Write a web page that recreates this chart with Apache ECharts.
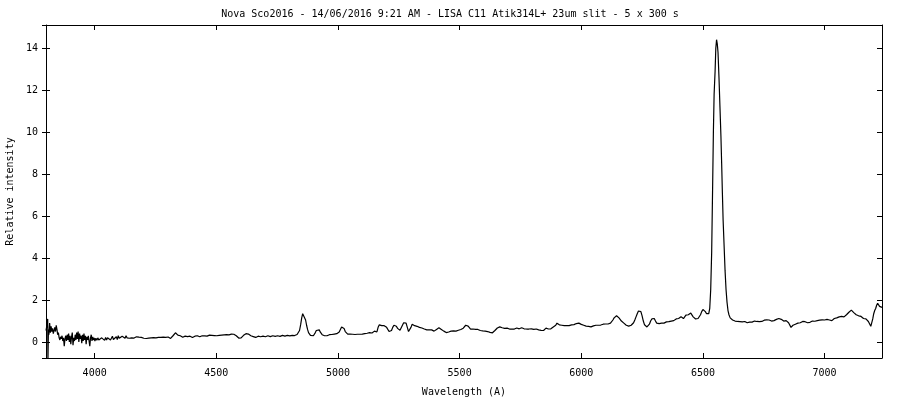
<!DOCTYPE html>
<html>
<head>
<meta charset="utf-8">
<script src="https://cdn.jsdelivr.net/npm/echarts@6/dist/echarts.min.js"></script>
<style>
html,body{margin:0;padding:0;background:#fff;}
#chart{width:900px;height:400px;}
</style>
</head>
<body>
<div id="chart"></div>
<script>
// ---- data: [wavelength (A), relative intensity] ----
const spectrumBlue = [
[3800,0.55],[3803,0.75],[3805,0.95],[3807,1.10],[3808,-0.9],[3810,0.6],[3812,0.35],[3815,0.9],[3818,0.45],
[3821,0.75],[3824,0.5],[3827,0.65],[3830,0.4],[3833,0.55],[3836,0.7],[3839,0.5],[3842,0.8],[3845,0.6],
[3848,0.35],[3851,0.45],[3854,0.2],[3857,0.1],[3860,0.25],[3863,0.15],[3866,0.3],[3869,0.05],[3872,0.2],
[3875,-0.2],[3878,0.15],[3881,0.3],[3884,0.05],[3887,0.35],[3890,0.1],[3893,0.4],[3896,0.0],[3899,0.3],
[3902,-0.1],[3905,0.25],[3908,0.45],[3911,-0.15],[3914,0.2],[3917,0.05],[3920,0.35],[3923,0.1],[3926,0.45],
[3929,0.15],[3932,0.5],[3935,0.0],[3938,0.4],[3941,0.15],[3944,0.3],[3947,-0.05],[3950,0.35],[3953,0.05],
[3956,0.4],[3959,0.1],[3962,0.3],[3965,-0.1],[3968,0.25],[3971,0.1],[3974,0.3],[3977,0.05],[3980,-0.2],
[3983,0.2],[3986,0.35],[3989,0.05],[3992,0.25],[3995,0.1],[3998,0.2],[4001,0.05],[4005,0.18],[4009,0.08],
[4013,0.2],[4017,0.1],[4021,0.15],[4025,0.05],[4029,0.2],[4033,0.12],[4037,0.18],[4041,0.08],[4045,0.22],
[4049,0.1],[4053,0.2],[4057,0.12],[4061,0.25],[4065,0.1],[4069,0.18],[4073,0.28],[4077,0.12],[4081,0.2],
[4085,0.15],[4089,0.25],[4093,0.12],[4097,0.3],[4101,0.18],[4105,0.22],[4109,0.15],[4113,0.28],[4117,0.2],
[4121,0.25],[4125,0.18],[4129,0.3],[4133,0.2],[4137,0.24],[4142,0.18],[4147,0.26],[4152,0.2],[4157,0.24],
[4162,0.19],[4167,0.22],[4172,0.25],[4177,0.2],[4182,0.23],[4187,0.19],[4192,0.22],[4197,0.2],[4202,0.18],
[4207,0.2],[4212,0.17],[4217,0.21],[4222,0.19],[4227,0.22],[4232,0.2],[4237,0.24],[4242,0.21],[4247,0.23],
[4252,0.2],[4257,0.25],[4262,0.22],[4267,0.19],[4272,0.22],[4277,0.2],[4282,0.23],[4287,0.26],[4292,0.22],
[4297,0.2],[4302,0.24],[4307,0.22],[4312,0.17],[4317,0.25],[4322,0.3],[4327,0.38],[4332,0.44],[4337,0.4],
[4342,0.33],[4347,0.36],[4352,0.3],[4357,0.27],[4362,0.23],[4367,0.25],[4372,0.28],[4377,0.24],[4382,0.26],
[4387,0.24],[4392,0.28],[4397,0.25],[4402,0.22],[4407,0.26],[4412,0.28],[4417,0.25],[4422,0.3],[4427,0.27],
[4432,0.25],[4437,0.29],[4442,0.3],[4447,0.26],[4452,0.29],[4457,0.31],[4462,0.28],[4467,0.3],[4472,0.33],
[4477,0.3],[4482,0.32],[4487,0.35],[4492,0.31],[4497,0.33],[4502,0.3],[4507,0.34],[4512,0.32],[4517,0.35],
[4522,0.33],[4527,0.36],[4532,0.34],[4537,0.32],[4542,0.35],[4547,0.37],[4552,0.34],[4557,0.36],[4562,0.38],
[4567,0.35],[4572,0.37],[4577,0.34],[4582,0.3],[4587,0.24],[4592,0.19],[4597,0.16],[4602,0.2],[4607,0.26],
[4612,0.32],[4617,0.36],[4622,0.4],[4627,0.42],[4632,0.38],[4637,0.33],[4642,0.3],[4647,0.28],[4652,0.26],
[4657,0.24],[4662,0.22],[4667,0.25],[4672,0.28],[4677,0.27],[4682,0.25],[4687,0.26],[4692,0.28],[4697,0.27],
[4702,0.25],[4707,0.28],[4712,0.3],[4717,0.27],[4722,0.26],[4727,0.28],[4732,0.3],[4737,0.28],[4742,0.27],
[4747,0.29],[4752,0.3],[4757,0.28],[4762,0.27],[4767,0.3],[4772,0.32],[4777,0.3],[4782,0.28],[4787,0.3],
[4792,0.32],[4797,0.31],[4802,0.29],[4807,0.3],[4812,0.32],[4817,0.3],[4822,0.31],[4827,0.33]
];
const spectrumGreen = [
[4832,0.36],[4837,0.4],[4842,0.55],[4847,0.85],[4851,1.15],[4855,1.35],[4859,1.4],[4863,1.3],[4867,1.05],
[4871,0.8],[4875,0.6],[4879,0.45],[4883,0.36],[4887,0.32],[4891,0.3],[4895,0.28],[4899,0.3],[4903,0.35],
[4907,0.45],[4911,0.55],[4915,0.6],[4919,0.62],[4923,0.58],[4927,0.48],[4931,0.4],[4935,0.35],[4940,0.33],
[4945,0.3],[4950,0.32],[4955,0.3],[4960,0.33],[4965,0.35],[4970,0.33],[4975,0.36],[4980,0.35],[4985,0.38],
[4990,0.37],[4995,0.4],[5000,0.42],[5005,0.48],[5010,0.6],[5015,0.72],[5020,0.73],[5025,0.65],[5030,0.5],
[5035,0.42],[5040,0.38],[5045,0.39],[5050,0.38],[5055,0.4],[5060,0.37],[5065,0.38],[5070,0.36],[5075,0.38],
[5080,0.37],[5085,0.36],[5090,0.37],[5095,0.36],[5100,0.38],[5105,0.37],[5110,0.4],[5115,0.38],[5120,0.42],
[5125,0.4],[5130,0.45],[5135,0.4],[5140,0.43],[5145,0.48],[5150,0.52],[5155,0.55],[5160,0.48],[5165,0.7],
[5170,0.82],[5175,0.8],[5180,0.78],[5185,0.75],[5190,0.78],[5195,0.72],[5200,0.7],[5205,0.62],[5210,0.5],
[5215,0.45],[5220,0.55],[5225,0.7],[5230,0.8],[5235,0.82],[5240,0.75],[5245,0.65],[5250,0.58],[5255,0.56],
[5260,0.65],[5265,0.8],[5270,0.92],[5275,0.96],[5280,0.9],[5285,0.7],[5290,0.5],[5295,0.52],[5300,0.7],
[5305,0.85],[5310,0.86],[5315,0.78],[5320,0.72],[5325,0.75],[5330,0.72],[5335,0.7],[5340,0.68],[5345,0.67],
[5350,0.65],[5355,0.62],[5360,0.6],[5365,0.58],[5370,0.57],[5375,0.58],[5380,0.6],[5385,0.58],[5390,0.55],
[5395,0.52],[5400,0.56],[5405,0.6],[5410,0.65],[5415,0.68],[5420,0.66],[5425,0.6],[5430,0.56],[5435,0.52],
[5440,0.48],[5445,0.45],[5450,0.47],[5455,0.48],[5460,0.5],[5465,0.52],[5470,0.5],[5475,0.53],[5480,0.55],
[5485,0.52],[5490,0.54],[5495,0.56],[5500,0.57],[5505,0.6],[5510,0.62],[5515,0.66],[5520,0.72],[5525,0.8],
[5530,0.82],[5535,0.76],[5540,0.68],[5545,0.62],[5550,0.6],[5555,0.62],[5560,0.64],[5565,0.6],[5570,0.58],
[5575,0.6],[5580,0.57],[5585,0.55],[5590,0.56],[5595,0.53],[5600,0.55],[5605,0.52],[5610,0.53],[5615,0.5],
[5620,0.48],[5625,0.46],[5630,0.44],[5635,0.44],[5640,0.48],[5645,0.55],[5650,0.62],[5655,0.67],[5660,0.7],
[5665,0.72],[5670,0.7],[5675,0.68],[5680,0.66],[5685,0.65],[5690,0.64],[5695,0.66],[5700,0.65],[5705,0.62],
[5710,0.63],[5715,0.62],[5720,0.6],[5725,0.62],[5730,0.65],[5735,0.67],[5740,0.66],[5745,0.63],[5750,0.65],
[5755,0.68],[5760,0.66],[5765,0.63],[5770,0.64],[5775,0.62],[5780,0.63],[5785,0.62],[5790,0.61],[5795,0.63],
[5800,0.62],[5805,0.6],[5810,0.63],[5815,0.62],[5820,0.6],[5825,0.58],[5830,0.62],[5835,0.56],[5840,0.52],
[5845,0.55],[5850,0.6],[5855,0.66],[5860,0.7],[5865,0.62],[5870,0.58],[5875,0.63],[5880,0.68],[5885,0.72],
[5890,0.75],[5895,0.8],[5900,0.9],[5905,0.88],[5910,0.82],[5915,0.78],[5920,0.8],[5925,0.77],[5930,0.78],
[5935,0.76],[5940,0.78],[5945,0.8],[5950,0.78],[5955,0.8],[5960,0.82],[5965,0.8],[5970,0.83],[5975,0.85],
[5980,0.88],[5985,0.92],[5990,0.9],[5995,0.85],[6000,0.84],[6005,0.82],[6010,0.8],[6015,0.78],[6020,0.76],
[6025,0.74],[6030,0.75],[6035,0.72],[6040,0.72],[6045,0.75],[6050,0.77],[6055,0.78],[6060,0.8],[6065,0.78],
[6070,0.8],[6075,0.82],[6080,0.81],[6085,0.83],[6090,0.85],[6095,0.84],[6100,0.86],[6105,0.88],[6110,0.86],
[6115,0.84],[6120,0.9],[6125,0.95],[6130,1.05],[6135,1.15],[6140,1.2],[6145,1.25],[6150,1.22],[6155,1.15],
[6160,1.08],[6165,1.0],[6170,0.95],[6175,0.9],[6180,0.85],[6185,0.8],[6190,0.78],[6195,0.76],[6200,0.78],
[6205,0.8],[6210,0.85],[6215,0.92],[6220,1.05],[6225,1.2],[6230,1.35],[6235,1.48],[6240,1.54],[6245,1.45],
[6250,1.25],[6255,1.0],[6260,0.82],[6265,0.74],[6270,0.72],[6275,0.75],[6280,0.85],[6285,1.0],[6290,1.1],
[6295,1.15],[6300,1.12],[6305,1.0],[6310,0.9],[6315,0.86],[6320,0.88],[6325,0.87],[6330,0.9],[6335,0.92],
[6340,0.9],[6345,0.93],[6350,0.96],[6355,0.95],[6360,0.97],[6365,0.94],[6370,1.0],[6375,1.05],[6380,1.02],
[6385,1.08],[6390,1.1],[6395,1.06],[6400,1.12],[6405,1.18],[6410,1.2],[6415,1.15],[6420,1.12],[6425,1.2],
[6430,1.28],[6435,1.32],[6440,1.3],[6445,1.35],[6450,1.38],[6455,1.3],[6460,1.2],[6465,1.12],[6470,1.1],
[6475,1.1],[6480,1.12],[6485,1.15],[6490,1.3],[6495,1.45],[6500,1.55],[6505,1.58],[6510,1.45],[6515,1.35],
[6520,1.28]
];
const spectrumHalpha = [
[6524,1.35],[6528,1.6],[6532,2.5],[6536,4.3],[6540,7.5],[6543,10.0],[6546,11.8],[6550,12.9],[6553,14.0],
[6556,14.4],[6559,14.2],[6562,13.8],[6566,12.6],[6570,11.2],[6574,9.8],[6577,8.5],[6580,7.1],[6583,5.8],
[6587,4.6],[6591,3.4],[6595,2.5],[6599,1.9],[6603,1.5],[6607,1.3],[6612,1.15],[6617,1.08],[6622,1.05]
];
const spectrumRed = [
[6627,1.02],[6632,1.0],[6637,0.97],[6642,0.98],[6647,0.95],[6652,0.97],[6657,0.93],[6662,0.96],[6667,0.94],
[6672,0.98],[6677,0.95],[6682,0.92],[6687,0.96],[6692,0.95],[6697,0.98],[6702,0.95],[6707,0.97],[6712,1.0],
[6717,0.96],[6722,0.98],[6727,0.95],[6732,0.97],[6737,1.0],[6742,0.98],[6747,1.02],[6752,1.04],[6757,1.02],
[6762,1.06],[6767,1.03],[6772,1.05],[6777,1.02],[6782,1.0],[6787,1.04],[6792,1.02],[6797,1.05],[6802,1.08],
[6807,1.1],[6812,1.12],[6817,1.05],[6822,1.08],[6827,1.02],[6832,1.0],[6837,1.04],[6842,1.02],[6847,0.98],
[6852,0.92],[6857,0.85],[6862,0.7],[6866,0.66],[6870,0.8],[6875,0.78],[6880,0.85],[6885,0.82],[6890,0.9],
[6895,0.86],[6900,0.92],[6905,0.95],[6910,0.98],[6915,0.94],[6920,0.97],[6925,0.95],[6930,0.92],[6935,0.96],
[6940,0.94],[6945,0.98],[6950,1.0],[6955,0.96],[6960,0.99],[6965,0.97],[6970,1.02],[6975,1.0],[6980,1.04],
[6985,1.02],[6990,1.06],[6995,1.08],[7000,1.05],[7005,1.1],[7010,1.08],[7015,1.12],[7020,1.05],[7025,1.08],
[7030,1.02],[7035,1.06],[7040,1.12],[7045,1.08],[7050,1.15],[7055,1.1],[7060,1.2],[7065,1.15],[7070,1.22],
[7075,1.28],[7080,1.2],[7085,1.25],[7090,1.3],[7095,1.35],[7100,1.42],[7105,1.5],[7110,1.52],[7115,1.45],
[7120,1.4],[7125,1.38],[7130,1.3],[7135,1.32],[7140,1.25],[7145,1.2],[7150,1.22],[7155,1.15],[7160,1.12],
[7165,1.08],[7170,1.1],[7175,1.02],[7180,0.98],[7185,0.9],[7190,0.75],[7194,0.8],[7198,1.1],[7202,1.35],
[7206,1.5],[7210,1.6],[7214,1.75],[7218,1.85],[7222,1.8],[7226,1.7],[7230,1.62],[7236,1.65]
];
const xTickValues = [4000, 4500, 5000, 5500, 6000, 6500, 7000];
const yTickValues = [0, 2, 4, 6, 8, 10, 12, 14];
const titleText = 'Nova Sco2016 - 14/06/2016 9:21 AM - LISA C11 Atik314L+ 23um slit - 5 x 300 s';
const xName = 'Wavelength (A)';
const yName = 'Relative intensity';

const X_MIN = 3800, X_MAX = 7236, Y_MIN = -0.76, Y_MAX = 15.1;
const FONT = 'DejaVu Sans Mono';
const black = '#000';

const spectrum = spectrumBlue.concat(spectrumGreen, spectrumHalpha, spectrumRed);

const gridPos = {left: 46, right: 18, top: 25, bottom: 42, containLabel: false, outerBoundsMode: 'none'};

function xAx(extra) {
  return Object.assign({
    type: 'value', min: X_MIN, max: X_MAX, minInterval: 500, maxInterval: 500,
    splitLine: {show: false},
    axisLine: {show: true, onZero: false, lineStyle: {color: black, width: 1}},
    axisTick: {show: true, inside: true, length: 5, lineStyle: {color: black, width: 1}},
    axisLabel: {show: false}
  }, extra);
}
function yAx(extra) {
  return Object.assign({
    type: 'value', min: Y_MIN, max: Y_MAX, minInterval: 2, maxInterval: 2,
    splitLine: {show: false},
    axisLine: {show: true, onZero: false, lineStyle: {color: black, width: 1}},
    axisTick: {show: true, inside: true, length: 5, lineStyle: {color: black, width: 1}},
    axisLabel: {show: false}
  }, extra);
}

const chart = echarts.init(document.getElementById('chart'), null, {renderer: 'canvas'});
chart.setOption({
  animation: false,
  backgroundColor: '#fff',
  title: {
    text: titleText, left: 'center', top: 4,
    textStyle: {fontFamily: FONT, fontSize: 10, fontWeight: 'normal', color: black}
  },
  grid: [gridPos, Object.assign({}, gridPos)],
  xAxis: [
    xAx({
      gridIndex: 0, position: 'bottom',
      axisLabel: {
        show: true, color: black, fontFamily: FONT, fontSize: 10, margin: 10,
        formatter: v => xTickValues.indexOf(v) >= 0 ? String(v) : ''
      },
      name: xName, nameLocation: 'middle', nameGap: 29,
      nameTextStyle: {fontFamily: FONT, fontSize: 10, color: black}
    }),
    xAx({gridIndex: 0, position: 'top'}),
    xAx({gridIndex: 1, position: 'bottom', axisLine: {show: false, onZero: false}, axisTick: {show: false}})
  ],
  yAxis: [
    yAx({
      gridIndex: 0, position: 'left',
      axisTick: {show: true, inside: false, length: 4, lineStyle: {color: black, width: 1}},
      axisLabel: {
        show: true, color: black, fontFamily: FONT, fontSize: 10, margin: 8,
        formatter: v => yTickValues.indexOf(v) >= 0 ? String(v) : ''
      },
      name: yName, nameLocation: 'middle', nameGap: 27,
      nameTextStyle: {fontFamily: FONT, fontSize: 10, color: black}
    }),
    yAx({gridIndex: 0, position: 'right'}),
    yAx({gridIndex: 1, position: 'left', axisLine: {show: false, onZero: false},
         axisTick: {show: true, inside: true, length: 4, lineStyle: {color: black, width: 1}}})
  ],
  series: [{
    type: 'line', xAxisIndex: 0, yAxisIndex: 0,
    data: spectrum, symbol: 'none', showSymbol: false, smooth: false, clip: true,
    lineStyle: {color: black, width: 1.2}
  }]
});
</script>
</body>
</html>
